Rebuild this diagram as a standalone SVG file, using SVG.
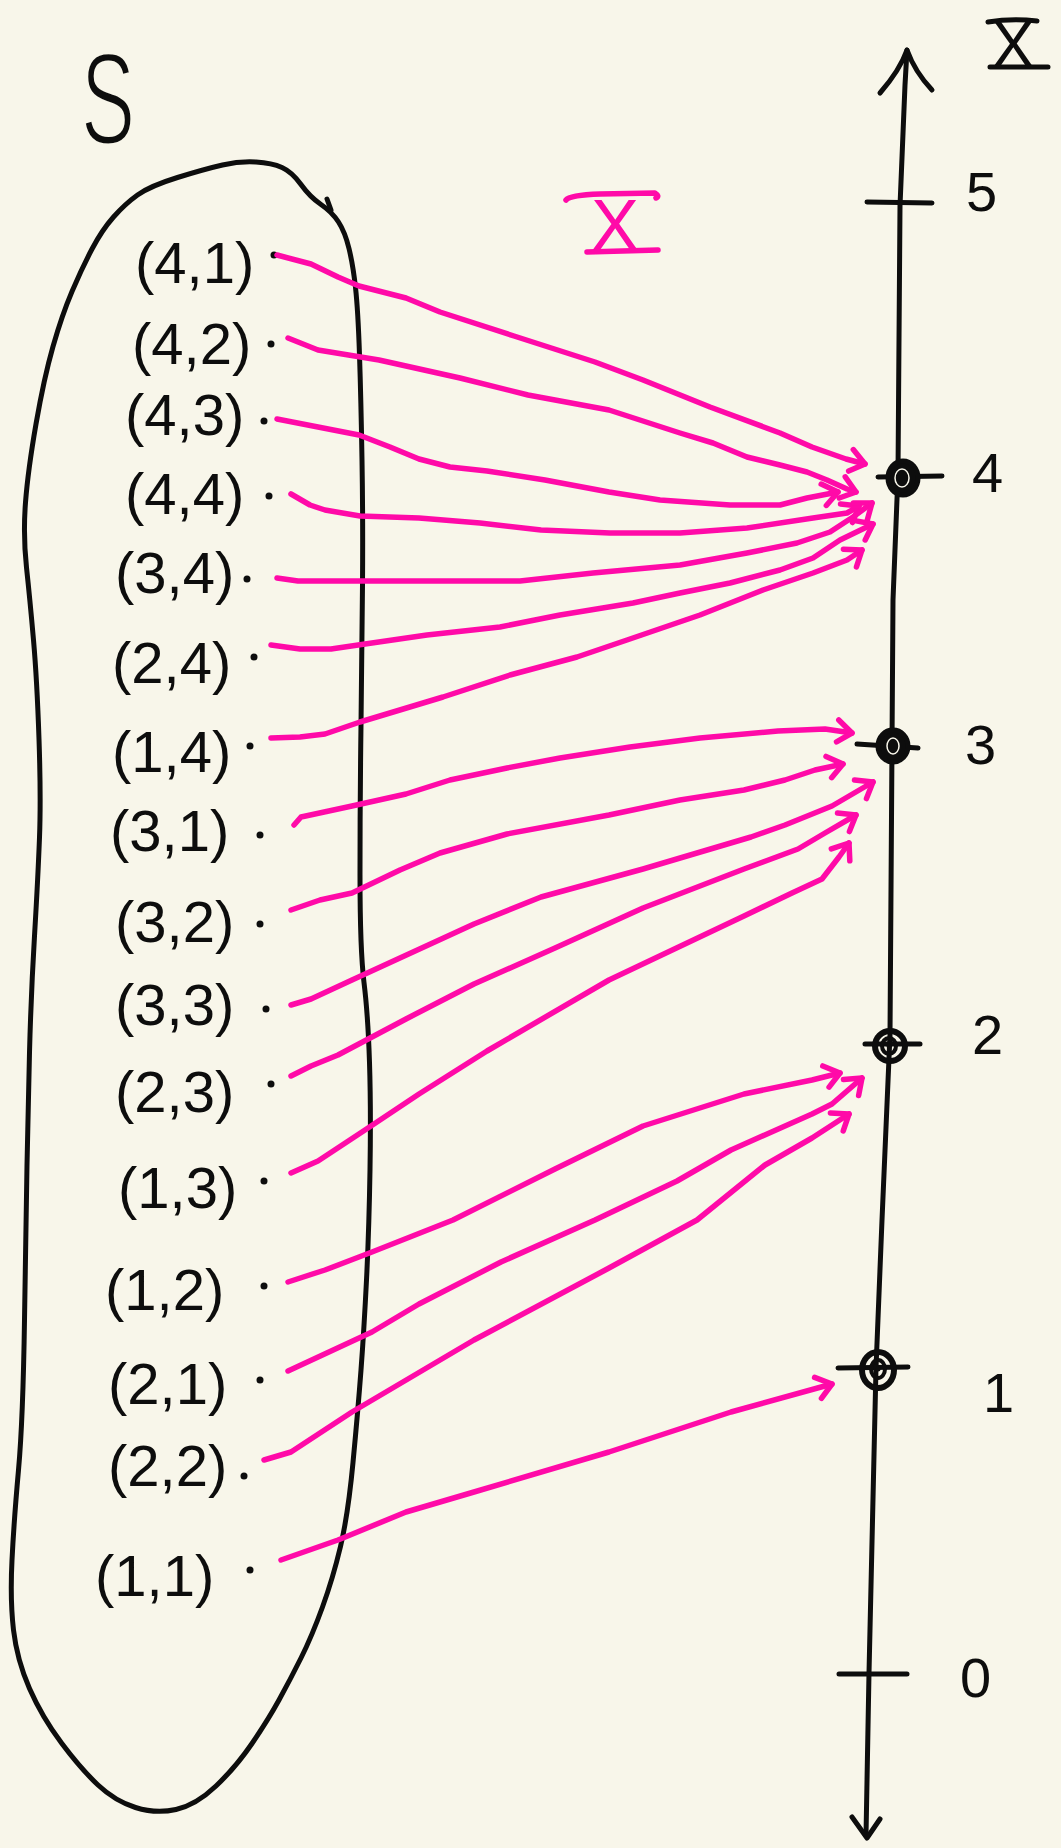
<svg xmlns="http://www.w3.org/2000/svg" width="1061" height="1848" viewBox="0 0 1061 1848">
<style>
.ink{fill:none;stroke:#0d0d0d;stroke-width:5;stroke-linecap:round;stroke-linejoin:round}
.pk{fill:none;stroke:#ff0aa8;stroke-width:5.5;stroke-linecap:round;stroke-linejoin:round}
.lbl{font-family:"Liberation Sans",Arial,sans-serif;font-size:58px;fill:#0d0d0d}
.num{font-family:"Liberation Sans",Arial,sans-serif;font-size:56px;fill:#0d0d0d}
.dot{fill:#0d0d0d}
</style>
<defs>
<marker id="ah" viewBox="-20 -15 24 30" refX="0" refY="0" markerWidth="24" markerHeight="30" markerUnits="userSpaceOnUse" orient="auto" overflow="visible">
<path d="M-15,-11 L0,0 L-14,11" fill="none" stroke="#ff0aa8" stroke-width="5.5" stroke-linecap="round" stroke-linejoin="round"/>
</marker>
</defs>
<rect x="0" y="0" width="1061" height="1848" fill="#f8f6ea"/>

<g id="title-S">
<text x="81" y="144" font-family="Liberation Sans, Arial, sans-serif" font-size="130" textLength="54" lengthAdjust="spacingAndGlyphs" fill="#0d0d0d" stroke="#f8f6ea" stroke-width="3">S</text>
</g>

<g id="set-S">
<path class="ink" d="M321,204.5 Q332,212 338.5,222 Q345,232 349,248.5 Q353,265 355.5,287.5 Q358,310 359.5,355 Q361,400 362,460 Q363,520 362.5,585 Q362,650 361,725 Q360,800 360,875 Q360,950 364,982.5 Q368,1015 369.5,1062.5 Q371,1110 370,1170 Q369,1230 366.5,1280 Q364,1330 361,1370 Q358,1410 353,1462.5 Q348,1515 340.5,1546.5 Q333,1578 322.5,1607 Q312,1636 301,1658 Q290,1680 279,1700 Q268,1720 252,1743.5 Q236,1767 216,1786 Q196,1805 176,1809.5 Q156,1814 135.5,1807.5 Q115,1801 98,1785 Q81,1769 61.5,1743 Q42,1717 29.5,1688.5 Q17,1660 13.5,1630 Q10,1600 12,1560 Q14,1520 18.5,1470 Q23,1420 24.5,1320 Q26,1220 27,1165 Q28,1110 29.5,1052.5 Q31,995 34.5,936 Q38,877 39.5,837.5 Q41,798 39,739 Q37,680 33.5,640 Q30,600 26.5,567.5 Q23,535 25.5,502.5 Q28,470 36,424 Q44,378 53,346.5 Q62,315 72,291.5 Q82,268 92,249 Q102,230 113.5,217 Q125,204 137.5,195 Q150,186 177.5,177.5 Q205,169 222.5,165 Q240,161 256,162 Q272,163 282,167.5 Q292,172 301,184.5 Q310,197 321,204.5 Z"/>
<path class="ink" d="M327,199 L331,210"/>
</g>

<g id="label-X-pink">
<text x="615" y="250" text-anchor="middle" font-family="Liberation Sans, Arial, sans-serif" font-size="72" fill="#ff0aa8">X</text>
<path class="pk" d="M566,200 Q570,195 600,194 L655,193 Q660,196 656,198 M587,252 L658,250"/>
</g>

<g id="label-X-axis">
<text x="1013" y="67" text-anchor="middle" font-family="Liberation Sans, Arial, sans-serif" font-size="64" fill="#0d0d0d">X</text>
<path class="ink" d="M988,22 Q1012,18 1037,21 M990,67 L1048,67"/>
</g>

<g id="axis">
<path class="ink" d="M907,50 L905,85 L900,206 L898,474 L893,600 L890,1035 L882,1220 L876,1368 L869,1673 L866,1836"/>
<path class="ink" d="M880,93 Q900,70 907,50 Q915,72 932,90"/>
<path class="ink" d="M852,1817 L867,1838 L880,1819"/>
<path class="ink" d="M867,202 L932,203 M878,477 L942,476 M857,744 L918,748 M865,1044 L920,1044 M838,1368 L908,1367 M839,1674 L907,1674"/>
</g>

<g id="tick-5"><text class="num" x="966" y="211">5</text></g>
<g id="tick-4">
<ellipse cx="903" cy="478" rx="15" ry="17" fill="#0d0d0d" stroke="#0d0d0d" stroke-width="5"/>
<ellipse cx="902" cy="478" rx="7" ry="9" fill="none" stroke="#f8f6ea" stroke-width="1.5"/>
<text class="num" x="972" y="492">4</text>
</g>
<g id="tick-3">
<ellipse cx="893" cy="746" rx="15" ry="16" fill="#0d0d0d" stroke="#0d0d0d" stroke-width="5"/>
<ellipse cx="893" cy="746" rx="6" ry="8" fill="none" stroke="#f8f6ea" stroke-width="1.5"/>
<text class="num" x="965" y="764">3</text>
</g>
<g id="tick-2">
<ellipse cx="890" cy="1046" rx="15" ry="15" fill="none" stroke="#0d0d0d" stroke-width="6"/>
<ellipse cx="889" cy="1046" rx="7" ry="8" fill="none" stroke="#0d0d0d" stroke-width="4"/>
<circle cx="889" cy="1046" r="2.5" fill="#0d0d0d"/>
<text class="num" x="972" y="1054">2</text>
</g>
<g id="tick-1">
<ellipse cx="878" cy="1370" rx="16" ry="18" fill="none" stroke="#0d0d0d" stroke-width="6"/>
<ellipse cx="878" cy="1369" rx="7" ry="9" fill="none" stroke="#0d0d0d" stroke-width="4"/>
<circle cx="878" cy="1369" r="2.5" fill="#0d0d0d"/>
<text class="num" x="983" y="1412" font-size="82">1</text>
</g>
<g id="tick-0"><text class="num" x="960" y="1697">0</text></g>

<g id="node-4-1"><text class="lbl" x="135" y="283">(4,1)</text><circle class="dot" cx="274" cy="255" r="3.5"/></g>
<g id="node-4-2"><text class="lbl" x="132" y="364">(4,2)</text><circle class="dot" cx="271" cy="344" r="3.5"/></g>
<g id="node-4-3"><text class="lbl" x="125" y="435">(4,3)</text><circle class="dot" cx="264" cy="421" r="3.5"/></g>
<g id="node-4-4"><text class="lbl" x="125" y="514">(4,4)</text><circle class="dot" cx="269" cy="496" r="3.5"/></g>
<g id="node-3-4"><text class="lbl" x="115" y="593">(3,4)</text><circle class="dot" cx="247" cy="579" r="3.5"/></g>
<g id="node-2-4"><text class="lbl" x="112" y="683">(2,4)</text><circle class="dot" cx="254" cy="657" r="3.5"/></g>
<g id="node-1-4"><text class="lbl" x="112" y="772">(1,4)</text><circle class="dot" cx="250" cy="746" r="3.5"/></g>
<g id="node-3-1"><text class="lbl" x="110" y="851">(3,1)</text><circle class="dot" cx="260" cy="835" r="3.5"/></g>
<g id="node-3-2"><text class="lbl" x="115" y="942">(3,2)</text><circle class="dot" cx="260" cy="924" r="3.5"/></g>
<g id="node-3-3"><text class="lbl" x="115" y="1025">(3,3)</text><circle class="dot" cx="266" cy="1009" r="3.5"/></g>
<g id="node-2-3"><text class="lbl" x="115" y="1112">(2,3)</text><circle class="dot" cx="271" cy="1084" r="3.5"/></g>
<g id="node-1-3"><text class="lbl" x="118" y="1208">(1,3)</text><circle class="dot" cx="264" cy="1181" r="3.5"/></g>
<g id="node-1-2"><text class="lbl" x="105" y="1310">(1,2)</text><circle class="dot" cx="264" cy="1286" r="3.5"/></g>
<g id="node-2-1"><text class="lbl" x="108" y="1404">(2,1)</text><circle class="dot" cx="260" cy="1380" r="3.5"/></g>
<g id="node-2-2"><text class="lbl" x="108" y="1486">(2,2)</text><circle class="dot" cx="244" cy="1476" r="3.5"/></g>
<g id="node-1-1"><text class="lbl" x="95" y="1596">(1,1)</text><circle class="dot" cx="250" cy="1570" r="3.5"/></g>

<g id="connectors">
<path class="pk" marker-end="url(#ah)" d="M277,255 L311,264 L338,277 L359,286 L406,298 L440,312 L514,336 L595,362 L643,380 L710,407 L780,433 L812,447 L846,459 L865,464"/>
<path class="pk" marker-end="url(#ah)" d="M288,338 L318,350 L379,360 L460,378 L528,395 L609,410 L680,433 L713,443 L747,457 L780,465 L807,472 L827,480 L847,489 L856,492"/>
<path class="pk" marker-end="url(#ah)" d="M277,419 L318,427 L359,435 L390,447 L419,459 L450,467 L487,471 L545,480 L609,492 L660,500 L730,505 L780,505 L807,498 L838,492"/>
<path class="pk" marker-end="url(#ah)" d="M291,494 L310,505 L325,510 L360,516 L419,518 L480,523 L541,530 L610,533 L680,533 L747,528 L813,518 L847,513 L859,506"/>
<path class="pk" marker-end="url(#ah)" d="M277,578 L298,581 L360,581 L520,581 L593,573 L680,565 L747,553 L797,543 L830,532 L853,517 L872,503"/>
<path class="pk" marker-end="url(#ah)" d="M271,645 L300,649 L331,649 L365,644 L427,635 L500,627 L560,615 L633,603 L680,593 L730,583 L780,570 L813,558 L840,540 L873,524"/>
<path class="pk" marker-end="url(#ah)" d="M271,738 L300,737 L325,734 L360,722 L443,697 L510,675 L577,657 L627,640 L700,615 L763,590 L813,573 L847,560 L862,550"/>
<path class="pk" marker-end="url(#ah)" d="M294,825 L301,817 L352,806 L406,794 L450,780 L507,768 L560,758 L630,747 L700,738 L778,731 L825,729 L852,733"/>
<path class="pk" marker-end="url(#ah)" d="M291,910 L320,900 L352,893 L400,870 L440,853 L507,834 L609,815 L680,800 L744,790 L785,780 L815,770 L843,764"/>
<path class="pk" marker-end="url(#ah)" d="M291,1005 L311,999 L352,980 L474,924 L541,897 L643,869 L751,837 L785,825 L832,806 L873,782"/>
<path class="pk" marker-end="url(#ah)" d="M291,1076 L311,1066 L338,1055 L406,1019 L474,984 L555,948 L643,908 L744,869 L798,849 L825,833 L856,815"/>
<path class="pk" marker-end="url(#ah)" d="M291,1173 L318,1161 L365,1130 L419,1094 L487,1051 L609,980 L744,916 L792,893 L822,879 L839,857 L849,843"/>
<path class="pk" marker-end="url(#ah)" d="M288,1282 L325,1270 L372,1252 L453,1220 L555,1169 L643,1126 L744,1094 L812,1080 L840,1073"/>
<path class="pk" marker-end="url(#ah)" d="M288,1371 L372,1332 L419,1304 L501,1262 L595,1220 L677,1181 L731,1150 L812,1114 L832,1104 L862,1078"/>
<path class="pk" marker-end="url(#ah)" d="M264,1460 L291,1452 L352,1412 L474,1340 L609,1268 L697,1220 L765,1165 L812,1138 L849,1114"/>
<path class="pk" marker-end="url(#ah)" d="M281,1560 L338,1540 L406,1512 L474,1492 L609,1452 L731,1412 L832,1384"/>
</g>
</svg>
